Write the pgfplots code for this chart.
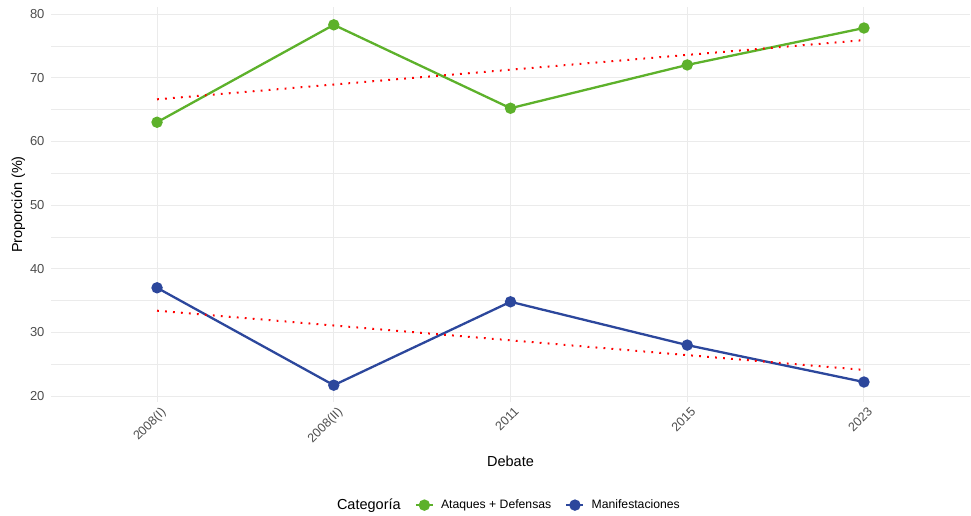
\documentclass[border=0pt]{standalone}
\usepackage{pgfplots}
\pgfplotsset{compat=1.18}
\usepackage{fontspec}
\setmainfont{Liberation Sans}
\definecolor{verde}{HTML}{5DB12B}
\definecolor{azul}{HTML}{2C479C}
\definecolor{rejilla}{HTML}{EBEBEB}
\definecolor{texto}{HTML}{4D4D4D}

\begin{document}
\begin{tikzpicture}
  \begin{axis}[
      name=panel,
      scale only axis,
      width=919pt, height=395pt,
      xmin=-0.6, xmax=4.6,
      ymin=19.06, ymax=81.1,
      axis line style={draw=none},
      major tick length=0pt, minor tick length=0pt,
      xtick={0,1,2,3,4},
      xticklabels={2008(I),2008(II),2011,2015,2023},
      ytick={20,30,40,50,60,70,80},
      minor ytick={25,35,45,55,65,75},
      grid=both,
      major grid style={rejilla, line width=1pt},
      minor grid style={rejilla, line width=0.6pt},
      xticklabel style={rotate=45, anchor=north east, font=\fontsize{12.5}{14}\selectfont,
        text=texto, inner sep=1pt, xshift=0pt, yshift=-4pt},
      yticklabel style={font=\fontsize{13}{15}\selectfont, text=texto, xshift=-3pt},
      /pgf/number format/assume math mode=true,
      xlabel={Debate},
      ylabel={Proporción (\%)},
      xlabel style={font=\fontsize{14.5}{16}\selectfont, yshift=-6pt},
      ylabel style={font=\fontsize{14.5}{16}\selectfont, yshift=-2pt},
      legend columns=3,
      legend style={at={(0.495,-0.235)}, anchor=north, draw=none, fill=none,
        font=\fontsize{12.2}{14}\selectfont,
        /tikz/every odd column/.append style={column sep=5pt},
        /tikz/every even column/.append style={column sep=12pt}},
      legend cell align=left,
      clip=false,
    ]
    \addlegendimage{empty legend}
    \addlegendentry{\fontsize{14.5}{16}\selectfont Categoría}
    \addplot[verde, line width=2.3pt, mark=*, mark size=4.5pt] coordinates {
      (0,63.0) (1,78.3) (2,65.2) (3,72.0) (4,77.8)
    };
    \addlegendentry{Ataques + Defensas}
    \addplot[azul, line width=2.3pt, mark=*, mark size=4.5pt] coordinates {
      (0,37.0) (1,21.7) (2,34.8) (3,28.0) (4,22.2)
    };
    \addlegendentry{Manifestaciones}
    \addplot[red, line width=2pt, dash pattern=on 1.8pt off 6.2pt, forget plot] coordinates {
      (0,66.6) (4,75.9)
    };
    \addplot[red, line width=2pt, dash pattern=on 1.8pt off 6.2pt, forget plot] coordinates {
      (0,33.4) (4,24.1)
    };
  \end{axis}
  \pgfresetboundingbox
  \path[use as bounding box] ([shift={(-51pt,-113pt)}]panel.south west) rectangle ([shift={(1pt,7pt)}]panel.north east);
\end{tikzpicture}
\end{document}
